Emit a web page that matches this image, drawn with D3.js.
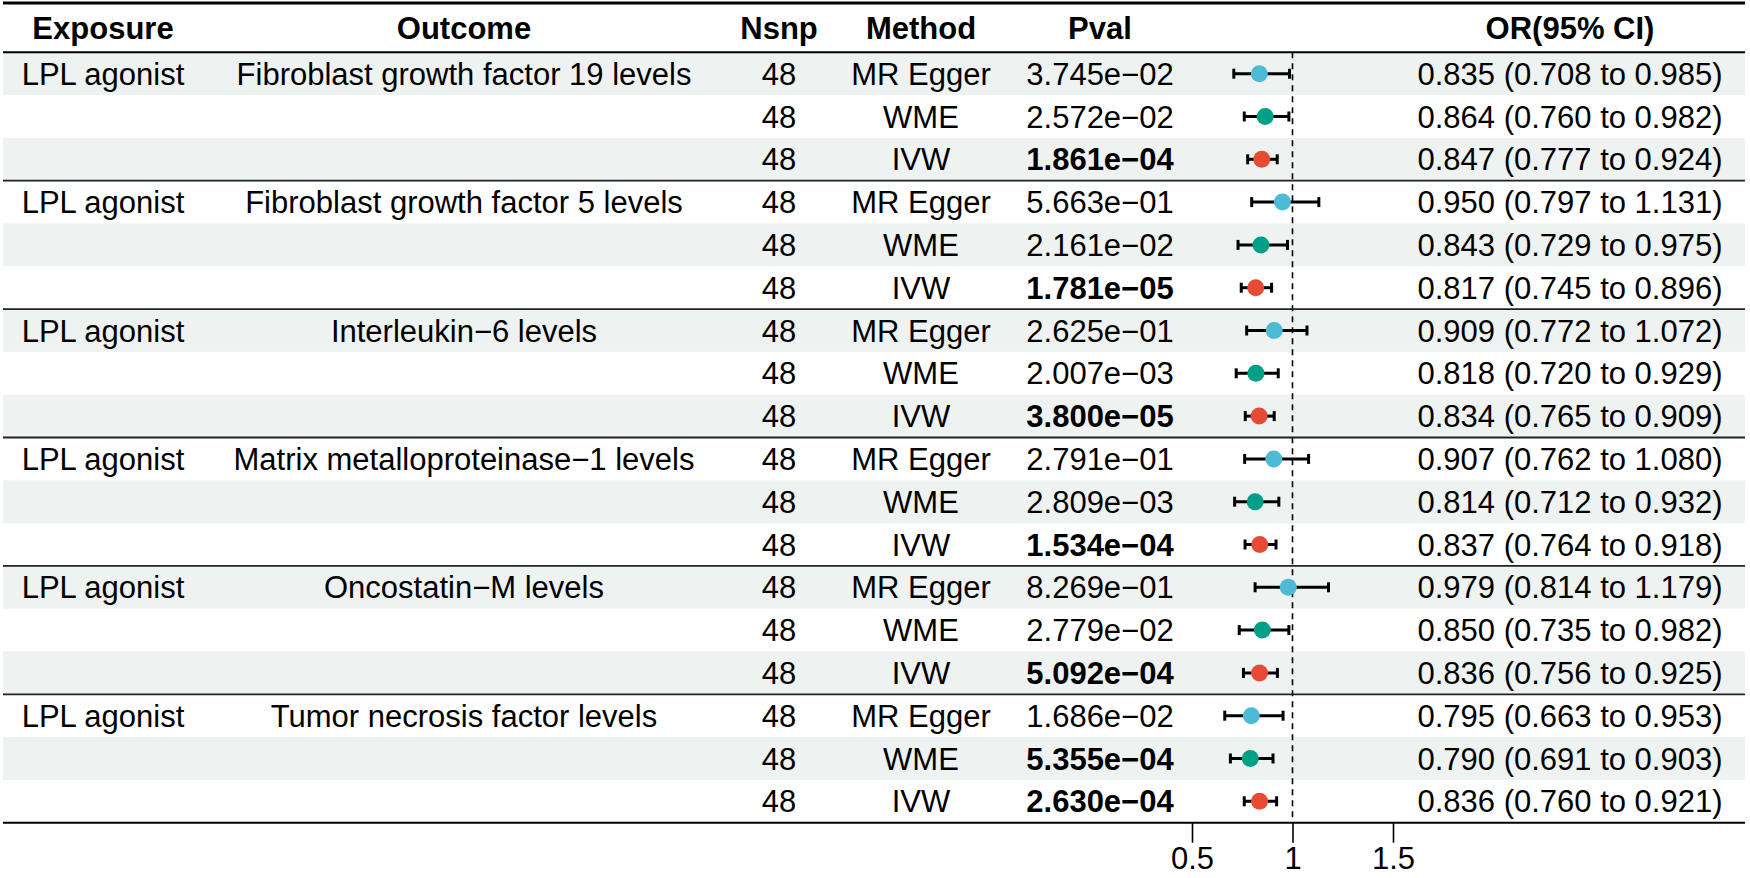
<!DOCTYPE html>
<html>
<head>
<meta charset="utf-8">
<script src="https://cdn.jsdelivr.net/npm/d3@7"></script>
<style>
  body { margin: 0; background: #fff; }
  svg text { font-family: "Liberation Sans", Arial, sans-serif; fill: #000; }
</style>
</head>
<body>
<svg id="chart" width="1750" height="878"></svg>
<script>
// table values
var exposure = "LPL agonist";
var outcomes = ["Fibroblast growth factor 19 levels", "Fibroblast growth factor 5 levels",
  "Interleukin\u22126 levels", "Matrix metalloproteinase\u22121 levels",
  "Oncostatin\u2212M levels", "Tumor necrosis factor levels"];
var methods = ["MR Egger", "WME", "IVW"];
var nsnp = 48;
var pvals = ["3.745e\u221202", "2.572e\u221202", "1.861e\u221204",
  "5.663e\u221201", "2.161e\u221202", "1.781e\u221205",
  "2.625e\u221201", "2.007e\u221203", "3.800e\u221205",
  "2.791e\u221201", "2.809e\u221203", "1.534e\u221204",
  "8.269e\u221201", "2.779e\u221202", "5.092e\u221204",
  "1.686e\u221202", "5.355e\u221204", "2.630e\u221204"];
var orVals = [0.835, 0.864, 0.847, 0.950, 0.843, 0.817, 0.909, 0.818, 0.834,
  0.907, 0.814, 0.837, 0.979, 0.850, 0.836, 0.795, 0.790, 0.836];
var lowVals = [0.708, 0.760, 0.777, 0.797, 0.729, 0.745, 0.772, 0.720, 0.765,
  0.762, 0.712, 0.764, 0.814, 0.735, 0.756, 0.663, 0.691, 0.760];
var highVals = [0.985, 0.982, 0.924, 1.131, 0.975, 0.896, 1.072, 0.929, 0.909,
  1.080, 0.932, 0.918, 1.179, 0.982, 0.925, 0.953, 0.903, 0.921];
var xTicks = [0.5, 1, 1.5];

var methodColors = {"MR Egger": "#4DBBD5", "WME": "#00A087", "IVW": "#E64B35"};

// build rows
var rows = [];
for (var i = 0; i < orVals.length; i++) {
  var g = Math.floor(i / 3);
  rows.push({
    idx: i,
    first: i % 3 == 0,
    outcome: outcomes[g],
    method: methods[i % 3],
    pval: pvals[i],
    or: orVals[i], lo: lowVals[i], hi: highVals[i]
  });
}

var svg = d3.select("#chart");
var left = 3, right = 1745;
var headTop = 3, headBottom = 52.3, tableBottom = 822.7;
var fontSize = 31;

var y = d3.scaleBand().domain(d3.range(rows.length)).range([headBottom, tableBottom]);
var x = d3.scaleLinear().domain([0.5, 1.5]).range([1192, 1393]);

var cols = {exposure: 103, outcome: 464, nsnp: 779, method: 921, pval: 1100, or: 1570};

// row shading
svg.append("g").selectAll("rect")
  .data(rows.filter(function(d) { return d.idx % 2 == 0; }))
  .enter().append("rect")
    .attr("x", left).attr("width", right - left)
    .attr("y", function(d) { return y(d.idx); })
    .attr("height", y.bandwidth())
    .attr("fill", "#EEF2F1");

// header
var headers = [["Exposure", cols.exposure], ["Outcome", cols.outcome], ["Nsnp", cols.nsnp],
  ["Method", cols.method], ["Pval", cols.pval], ["OR(95% CI)", cols.or]];
svg.append("g").selectAll("text")
  .data(headers).enter().append("text")
    .attr("x", function(d) { return d[1]; })
    .attr("y", (headTop + headBottom) / 2)
    .attr("dy", "0.36em")
    .attr("text-anchor", "middle")
    .attr("font-size", fontSize)
    .attr("font-weight", "bold")
    .text(function(d) { return d[0]; });

// body text
var body = svg.append("g");
function addCol(key, fn, weightFn) {
  body.append("g").selectAll("text")
    .data(rows).enter().append("text")
      .attr("x", cols[key])
      .attr("y", function(d) { return y(d.idx) + y.bandwidth() / 2; })
      .attr("dy", "0.36em")
      .attr("text-anchor", "middle")
      .attr("font-size", fontSize)
      .attr("font-weight", weightFn ? weightFn : "normal")
      .text(fn);
}
addCol("exposure", function(d) { return d.first ? exposure : ""; });
addCol("outcome", function(d) { return d.first ? d.outcome : ""; });
addCol("nsnp", function(d) { return nsnp; });
addCol("method", function(d) { return d.method; });
addCol("pval", function(d) { return d.pval; },
  function(d) { return parseFloat(d.pval.replace("\u2212", "-")) < 0.001 ? "bold" : "normal"; });
addCol("or", function(d) {
  return d.or.toFixed(3) + " (" + d.lo.toFixed(3) + " to " + d.hi.toFixed(3) + ")";
});

// reference line at 1
svg.append("line")
  .attr("x1", x(1)).attr("x2", x(1))
  .attr("y1", headBottom).attr("y2", tableBottom)
  .attr("stroke", "#000").attr("stroke-width", 1.6)
  .attr("stroke-dasharray", "6,5");

// error bars
var ci = svg.append("g");
ci.selectAll("line.ci")
  .data(rows).enter().append("line")
    .attr("x1", function(d) { return x(d.lo); })
    .attr("x2", function(d) { return x(d.hi); })
    .attr("y1", function(d) { return y(d.idx) + y.bandwidth() / 2; })
    .attr("y2", function(d) { return y(d.idx) + y.bandwidth() / 2; })
    .attr("stroke", "#000").attr("stroke-width", 3);
["lo", "hi"].forEach(function(k) {
  ci.selectAll("line.cap" + k)
    .data(rows).enter().append("line")
      .attr("x1", function(d) { return x(d[k]); })
      .attr("x2", function(d) { return x(d[k]); })
      .attr("y1", function(d) { return y(d.idx) + y.bandwidth() / 2 - 5; })
      .attr("y2", function(d) { return y(d.idx) + y.bandwidth() / 2 + 5; })
      .attr("stroke", "#000").attr("stroke-width", 3);
});
ci.selectAll("circle")
  .data(rows).enter().append("circle")
    .attr("cx", function(d) { return x(d.or); })
    .attr("cy", function(d) { return y(d.idx) + y.bandwidth() / 2; })
    .attr("r", 8.5)
    .attr("fill", function(d) { return methodColors[d.method]; });

// table rules
svg.append("line").attr("x1", left).attr("x2", right)
  .attr("y1", headTop).attr("y2", headTop)
  .attr("stroke", "#000").attr("stroke-width", 3);
svg.append("line").attr("x1", left).attr("x2", right)
  .attr("y1", headBottom).attr("y2", headBottom)
  .attr("stroke", "#000").attr("stroke-width", 2);
svg.append("g").selectAll("line")
  .data(rows.filter(function(d) { return d.first && d.idx > 0; }))
  .enter().append("line")
    .attr("x1", left).attr("x2", right)
    .attr("y1", function(d) { return y(d.idx); })
    .attr("y2", function(d) { return y(d.idx); })
    .attr("stroke", "#222").attr("stroke-width", 1.8);
svg.append("line").attr("x1", left).attr("x2", right)
  .attr("y1", tableBottom).attr("y2", tableBottom)
  .attr("stroke", "#000").attr("stroke-width", 2);

// x axis
var axis = svg.append("g")
  .attr("transform", "translate(0," + tableBottom + ")")
  .call(d3.axisBottom(x).tickValues(xTicks).tickSize(20).tickPadding(4)
    .tickFormat(function(d) { return String(d); }));
axis.select(".domain").remove();
axis.selectAll("line").attr("stroke", "#000").attr("stroke-width", 1.6);
axis.selectAll("text").attr("font-size", fontSize).attr("font-family", "Liberation Sans, Arial, sans-serif");
</script>
</body>
</html>
